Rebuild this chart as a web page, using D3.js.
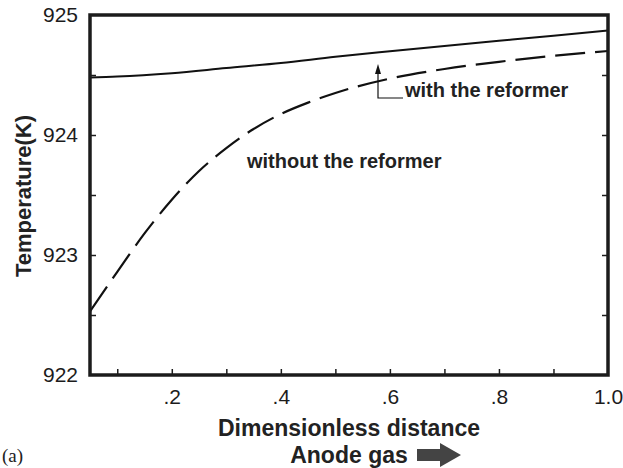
<!DOCTYPE html>
<html>
<head>
<meta charset="utf-8">
<script src="https://cdn.jsdelivr.net/npm/d3@7"></script>
<style>
  html, body { margin: 0; padding: 0; background: #fff; }
  svg { display: block; }
</style>
</head>
<body>
<svg id="chart" width="623" height="468"></svg>
<script>
// ---- data ----
const withX = [0.05, 0.1, 0.2, 0.3, 0.4, 0.5, 0.6, 0.7, 0.8, 0.9, 1.0];
const withY = [924.48, 924.487, 924.515, 924.558, 924.60, 924.652, 924.698, 924.742, 924.785, 924.828, 924.87];

const withoutX = [0.05, 0.1, 0.15, 0.2, 0.25, 0.3, 0.35, 0.4, 0.45, 0.5, 0.6, 0.7, 0.8, 0.9, 1.0];
const withoutY = [922.53, 922.86, 923.18, 923.46, 923.70, 923.89, 924.05, 924.175, 924.27, 924.35, 924.47, 924.55, 924.61, 924.66, 924.70];

const xMajorTicks = [0.2, 0.4, 0.6, 0.8, 1.0];
const xTickLabels = [".2", ".4", ".6", ".8", "1.0"];
const xMinorTicks = [0.1, 0.2, 0.3, 0.4, 0.5, 0.6, 0.7, 0.8, 0.9];
const yMajorTicks = [922, 923, 924, 925];
const yTickLabels = ["922", "923", "924", "925"];
const yMinorTicks = [922.5, 923, 923.5, 924, 924.5];

// ---- layout ----
const svg = d3.select("#chart");
const L = 90, R = 608, T = 15, B = 375;
const x = d3.scaleLinear().domain([0.05, 1.0]).range([L, R]);
const y = d3.scaleLinear().domain([922, 925]).range([B, T]);
const ink = "#1c1c1c";
const font = "'Liberation Sans', Arial, Helvetica, sans-serif";

svg.append("defs").append("clipPath").attr("id", "clip")
  .append("rect").attr("x", L).attr("y", T).attr("width", R - L).attr("height", B - T);

// ---- ticks (inward) ----
const gx = svg.append("g").attr("transform", `translate(0,${B})`)
  .call(d3.axisBottom(x).tickValues(xMinorTicks).tickSize(-6).tickFormat(""));
gx.select(".domain").remove();
gx.selectAll("line").attr("stroke", ink).attr("stroke-width", 1.5);

const gyl = svg.append("g").attr("transform", `translate(${L},0)`)
  .call(d3.axisLeft(y).tickValues(yMinorTicks).tickSize(-6).tickFormat(""));
gyl.select(".domain").remove();
gyl.selectAll("line").attr("stroke", ink).attr("stroke-width", 1.5);

const gyr = svg.append("g").attr("transform", `translate(${R},0)`)
  .call(d3.axisRight(y).tickValues(yMinorTicks).tickSize(-6).tickFormat(""));
gyr.select(".domain").remove();
gyr.selectAll("line").attr("stroke", ink).attr("stroke-width", 1.5);

// ---- tick labels ----
const gxl = svg.append("g").attr("transform", `translate(0,${B})`)
  .call(d3.axisBottom(x).tickValues(xMajorTicks).tickSize(0).tickPadding(14)
    .tickFormat((d, i) => xTickLabels[i]));
gxl.select(".domain").remove();
gxl.selectAll("text").attr("font-family", font).attr("font-size", 21).attr("fill", ink);

const gyt = svg.append("g").attr("transform", `translate(${L},0)`)
  .call(d3.axisLeft(y).tickValues(yMajorTicks).tickSize(0).tickPadding(12)
    .tickFormat((d, i) => yTickLabels[i]));
gyt.select(".domain").remove();
gyt.selectAll("text").attr("font-family", font).attr("font-size", 21).attr("fill", ink);

// ---- curves ----
const line = d3.line().x(d => x(d[0])).y(d => y(d[1])).curve(d3.curveMonotoneX);
const plot = svg.append("g").attr("clip-path", "url(#clip)");
plot.append("path").datum(withX.map((v, i) => [v, withY[i]]))
  .attr("d", line).attr("fill", "none").attr("stroke", "#111").attr("stroke-width", 2);
plot.append("path").datum(withoutX.map((v, i) => [v, withoutY[i]]))
  .attr("d", line).attr("fill", "none").attr("stroke", "#111").attr("stroke-width", 2.2)
  .attr("stroke-dasharray", "30,10");

// ---- frame ----
svg.append("rect").attr("x", L).attr("y", T).attr("width", R - L).attr("height", B - T)
  .attr("fill", "none").attr("stroke", ink).attr("stroke-width", 3.5);

// ---- annotations ----
svg.append("path")
  .attr("d", `M403,98 L378,98 L378,72`)
  .attr("fill", "none").attr("stroke", "#111").attr("stroke-width", 1.2);
svg.append("path")
  .attr("d", `M378,64 L375,74 L381,74 Z`).attr("fill", "#111");
svg.append("text").attr("x", 405).attr("y", 97)
  .attr("font-family", font).attr("font-weight", "bold").attr("font-size", 20).attr("fill", "#222")
  .text("with the reformer");
svg.append("text").attr("x", 247).attr("y", 168)
  .attr("font-family", font).attr("font-weight", "bold").attr("font-size", 20).attr("fill", "#222")
  .text("without the reformer");

// ---- axis titles ----
svg.append("text")
  .attr("transform", `translate(31,196) rotate(-90)`)
  .attr("text-anchor", "middle")
  .attr("font-family", font).attr("font-weight", "bold").attr("font-size", 22).attr("fill", "#222")
  .text("Temperature(K)");
svg.append("text").attr("x", 349).attr("y", 436).attr("text-anchor", "middle")
  .attr("font-family", font).attr("font-weight", "bold").attr("font-size", 23).attr("fill", "#222")
  .text("Dimensionless distance");
svg.append("text").attr("x", 349).attr("y", 463).attr("text-anchor", "middle")
  .attr("font-family", font).attr("font-weight", "bold").attr("font-size", 23).attr("fill", "#222")
  .text("Anode gas");
svg.append("path")
  .attr("d", "M417,449 L440,449 L440,443 L461,455 L440,467 L440,461 L417,461 Z")
  .attr("fill", "#444");
svg.append("text").attr("x", 2).attr("y", 462)
  .attr("font-family", "'Liberation Serif', 'Times New Roman', serif").attr("font-size", 19).attr("fill", "#222")
  .text("(a)");
</script>
</body>
</html>
